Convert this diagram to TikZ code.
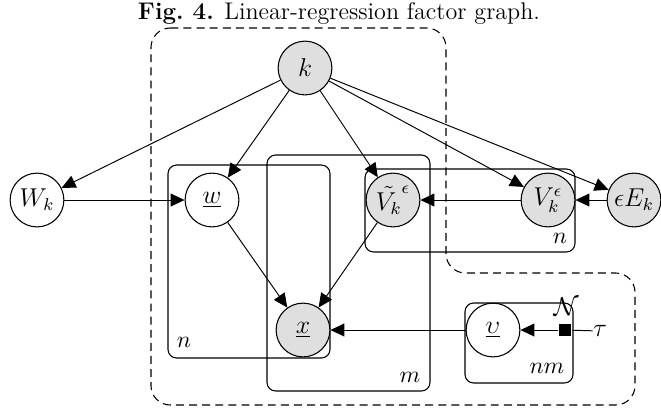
\documentclass[tikz,border=0pt]{standalone}
\usetikzlibrary{arrows.meta}
\begin{document}
\begin{tikzpicture}[x=0.465pt,y=-0.465pt,
  var/.style={circle,draw,line width=0.5pt,minimum size=25pt,inner sep=0pt,font=\large},
  obs/.style={var,fill=gray!25},
  plate/.style={draw,line width=0.5pt,rounded corners=4pt},
  edge/.style={-{Triangle[length=6.5pt,width=6pt]},line width=0.45pt},
  factor/.style={rectangle,fill=black,minimum size=6pt,inner sep=0pt},
  lbl/.style={inner sep=0pt,font=\fontsize{11}{13}\selectfont},
  biglbl/.style={inner sep=0pt,font=\large}]
\useasboundingbox (0,0) rectangle (661,416);
\node[inner sep=0pt,font=\fontsize{11.2}{13}\selectfont] (title) at (339,13) {\textbf{Fig.~4.} Linear-regression factor graph.};
% dashed region
\draw[dash pattern=on 3.7pt off 2.4pt,line width=0.5pt,rounded corners=9pt] (151,28) -- (446,28) -- (446,273) -- (635,273) -- (635,405) -- (151,405) -- cycle;
% plates
\draw[plate] (168,165) rectangle (330,358);
\draw[plate] (267,155) rectangle (430,391);
\draw[plate] (365,169) rectangle (575,252);
\draw[plate] (465,303) rectangle (573,383);
\node[lbl] (pn1) at (184,342) {$n$};
\node[lbl] (pm) at (410,377) {$m$};
\node[lbl] (pn2) at (560,238) {$n$};
\node[lbl] (pnm) at (547,368) {$nm$};
% nodes
\node[obs] (k) at (305,68) {$k$};
\node[var] (W) at (37,200) {$W_k$};
\node[var] (w) at (212,200) {$\underline{w}$};
\node[obs] (Vt) at (393,200) {$\tilde{V_k}^{\epsilon}$};
\node[obs] (V) at (548,200) {$V_k^{\epsilon}$};
\node[obs] (E) at (634,200) {$\epsilon E_k$};
\node[obs] (x) at (303,330) {$\underline{x}$};
\node[var] (u) at (493,330) {$\underline{\upsilon}$};
\node[factor] (f) at (565,330) {};
\node[biglbl] (N) at (566,307) {$\mathcal{N}$};
\node[biglbl] (tau) at (600,331) {$\tau$};
% edges
\draw[edge] (k) -- (W);
\draw[edge] (k) -- (w);
\draw[edge] (k) -- (Vt);
\draw[edge] (k) -- (V);
\draw[edge] (k) -- (E);
\draw[edge] (W) -- (w);
\draw[edge] (w) -- (x);
\draw[edge] (Vt) -- (x);
\draw[edge] (V) -- (Vt);
\draw[edge] (E) -- (V);
\draw[edge] (u) -- (x);
\draw[line width=0.45pt] (tau) -- (f);
\draw[edge] (f) -- (u);
\end{tikzpicture}
\end{document}
